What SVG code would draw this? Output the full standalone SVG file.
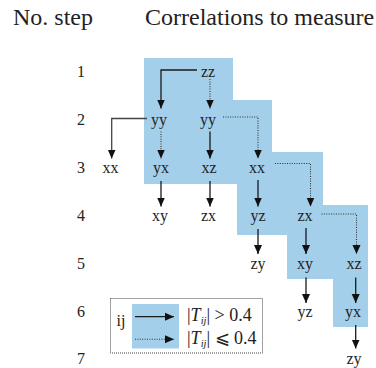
<svg xmlns="http://www.w3.org/2000/svg" width="376" height="368" viewBox="0 0 376 368" font-family="'Liberation Serif', 'DejaVu Serif', serif">
<style>
text{font-family:'Liberation Serif','DejaVu Serif',serif;fill:#222}
.t{font-size:24px}
.n{font-size:16px;text-anchor:middle}
.s{font-size:16px;text-anchor:middle}
.lg{font-size:18px}
.sol{fill:none;stroke:#1a1a1a;stroke-width:1.3}
.dot{fill:none;stroke:#333;stroke-width:1.1;stroke-dasharray:1 1.4}
</style>
<defs>
<marker id="ah" markerUnits="userSpaceOnUse" markerWidth="9" markerHeight="9" viewBox="0 0 9 8" refX="9" refY="4" orient="auto">
<path d="M0,0 L9,4 L0,8 z" fill="#111"/>
</marker>
</defs>
<rect width="376" height="368" fill="#fff"/>
<polygon id="region" points="144,58 233,58 233,100 272,100 272,152 323,152 323,205 368,205 368,327 333,327 333,279 287,279 287,235 237,235 237,184 144,184" fill="#a3cfea"/>
<g id="headers">
<text class="t" x="13" y="25">No. step</text>
<text class="t" x="145" y="25">Correlations to measure</text>
</g>
<g id="steps">
<text class="s" x="81" y="77">1</text>
<text class="s" x="81" y="125">2</text>
<text class="s" x="81" y="173">3</text>
<text class="s" x="81" y="221">4</text>
<text class="s" x="81" y="269">5</text>
<text class="s" x="81" y="317">6</text>
<text class="s" x="81" y="364">7</text>
</g>
<g id="connectors">
<polyline class="sol" points="197,70 161,70 161,108.5" marker-end="url(#ah)"/>
<polyline class="dot" points="210,79 210,108.5" marker-end="url(#ah)"/>
<polyline class="sol" style="stroke:#444" points="147,118.5 111.7,118.5 111.7,158.5" marker-end="url(#ah)"/>
<polyline class="dot" points="161,131.5 161,158.5" marker-end="url(#ah)"/>
<polyline class="sol" points="210,131.5 210,158.5" marker-end="url(#ah)"/>
<polyline class="dot" points="223,117 258,117 258,158.5" marker-end="url(#ah)"/>
<polyline class="sol" points="161,181 161,206.5" marker-end="url(#ah)"/>
<polyline class="sol" points="210,181 210,206.5" marker-end="url(#ah)"/>
<polyline class="sol" points="258,180 258,206.5" marker-end="url(#ah)"/>
<polyline class="dot" points="275,163.5 310.5,163.5 310.5,206.5" marker-end="url(#ah)"/>
<polyline class="sol" points="258,229 258,254" marker-end="url(#ah)"/>
<polyline class="sol" points="306,228 306,254" marker-end="url(#ah)"/>
<polyline class="dot" points="321.5,214 356.5,214 356.5,254" marker-end="url(#ah)"/>
<polyline class="sol" points="306,277.5 306,303" marker-end="url(#ah)"/>
<polyline class="sol" points="355.7,277.5 355.7,303" marker-end="url(#ah)"/>
<polyline class="sol" points="355.7,325 355.7,348.5" marker-end="url(#ah)"/>
</g>
<g id="n-zz"><text class="n" x="208" y="77">zz</text></g>
<g id="n-yy1"><text class="n" x="159" y="125">yy</text></g>
<g id="n-yy2"><text class="n" x="208" y="125">yy</text></g>
<g id="n-xx1"><text class="n" x="110.5" y="173">xx</text></g>
<g id="n-yx1"><text class="n" x="161" y="173">yx</text></g>
<g id="n-xz1"><text class="n" x="209" y="173">xz</text></g>
<g id="n-xx2"><text class="n" x="257" y="173">xx</text></g>
<g id="n-xy1"><text class="n" x="160" y="221">xy</text></g>
<g id="n-zx1"><text class="n" x="208.5" y="221">zx</text></g>
<g id="n-yz1"><text class="n" x="258" y="221">yz</text></g>
<g id="n-zx2"><text class="n" x="305" y="221">zx</text></g>
<g id="n-zy1"><text class="n" x="258" y="269">zy</text></g>
<g id="n-xy2"><text class="n" x="305" y="269">xy</text></g>
<g id="n-xz2"><text class="n" x="354" y="269">xz</text></g>
<g id="n-yz2"><text class="n" x="305" y="317">yz</text></g>
<g id="n-yx2"><text class="n" x="353" y="317">yx</text></g>
<g id="n-zy2"><text class="n" x="354" y="364">zy</text></g>
<g id="legend">
<rect x="110.5" y="298.5" width="152" height="54.5" fill="none" stroke="#444" stroke-width="1" stroke-dasharray="1 1"/>
<rect x="132" y="304" width="47" height="44.5" fill="#a3cfea"/>
<text x="121" y="326" style="font-size:16px;text-anchor:middle">ij</text>
<line class="sol" x1="135" y1="316.7" x2="174" y2="316.7" marker-end="url(#ah)"/>
<line class="dot" x1="135" y1="339.3" x2="174" y2="339.3" marker-end="url(#ah)"/>
<text class="lg" x="187" y="321">|<tspan font-style="italic">T</tspan><tspan font-size="10.5" font-style="italic" dy="3">ij</tspan><tspan dy="-3">| &gt; 0.4</tspan></text>
<text class="lg" x="187" y="344">|<tspan font-style="italic">T</tspan><tspan font-size="10.5" font-style="italic" dy="3">ij</tspan><tspan dy="-3">| ⩽ 0.4</tspan></text>
</g>
</svg>
